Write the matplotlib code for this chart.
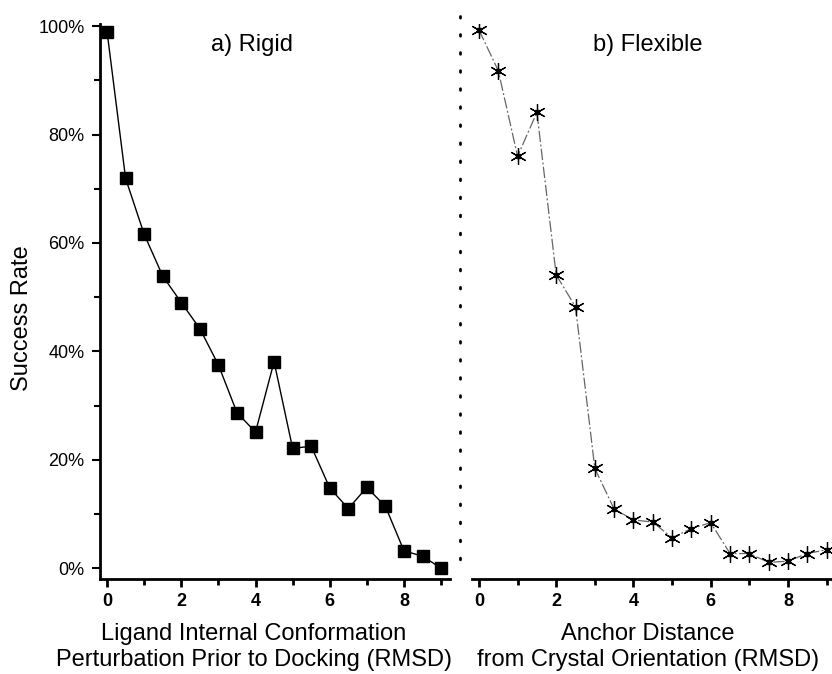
import numpy as np
import matplotlib.pyplot as plt
from matplotlib.lines import Line2D
from matplotlib.ticker import MultipleLocator, FuncFormatter

plt.rcParams['font.family'] = ['Liberation Sans', 'DejaVu Sans']

# RMSD steps (both panels)
rmsd = [0, 0.5, 1, 1.5, 2, 2.5, 3, 3.5, 4, 4.5, 5, 5.5, 6, 6.5, 7, 7.5, 8, 8.5, 9]
# success rate (%)
rigid = [99, 71.9, 61.6, 53.9, 49.0, 44.2, 37.5, 28.7, 25.1, 38.1,
         22.1, 22.5, 14.8, 11.0, 14.9, 11.4, 3.2, 2.2, 0.0]
flexible = [99.3, 91.8, 76.0, 84.1, 54.1, 48.2, 18.4, 10.9, 8.9, 8.5,
            5.6, 7.3, 8.4, 2.7, 2.7, 1.05, 1.3, 2.7, 3.4]

fig = plt.figure(figsize=(8.32, 6.74), dpi=100)
W, H = 832, 674

# left panel: rigid
ax1 = fig.add_axes([100 / W, 1 - 579 / H, 350 / W, 555 / H])
ax1.plot(rmsd, rigid, color='black', lw=1.0, marker='s',
         markersize=8, markerfacecolor='black', markeredgecolor='black')
ax1.set_xlim(-0.19, 9.24)
ax1.set_ylim(-2.0, 100.4)

# right panel: flexible
ax2 = fig.add_axes([472 / W, 1 - 579 / H, 360 / W, 555 / H])
ax2.plot(rmsd, flexible, color='0.4', lw=0.9, linestyle=(0, (9, 2, 1.5, 2)))
ax2.plot(rmsd, flexible, linestyle='none', marker=(6, 2, 0), markersize=12,
         markeredgecolor='black', markeredgewidth=0.9)
ax2.plot(rmsd, flexible, linestyle='none', marker='s', markersize=3.5,
         color='black')
ax2.set_xlim(-0.18, 9.14)
ax2.set_ylim(-2.0, 100.4)

for ax in (ax1, ax2):
    ax.spines['top'].set_visible(False)
    ax.spines['right'].set_visible(False)
    ax.spines['bottom'].set_linewidth(2)
    ax.xaxis.set_major_locator(MultipleLocator(2))
    ax.xaxis.set_minor_locator(MultipleLocator(1))
    ax.tick_params(axis='x', which='major', direction='out', length=6, width=2,
                   labelsize=13, pad=4)
    ax.tick_params(axis='x', which='minor', direction='out', length=4, width=2)
    for lab in ax.get_xticklabels():
        lab.set_fontweight('bold')

ax1.spines['left'].set_linewidth(2)
ax1.yaxis.set_major_locator(MultipleLocator(20))
ax1.yaxis.set_minor_locator(MultipleLocator(10))
ax1.yaxis.set_major_formatter(FuncFormatter(lambda v, p: f'{v:.0f}%'))
ax1.tick_params(axis='y', which='major', direction='out', length=6, width=1.5,
                labelsize=13, pad=5)
ax1.tick_params(axis='y', which='minor', direction='out', length=4, width=1.5)

ax2.spines['left'].set_visible(False)
ax2.set_yticks([])

# dotted separator between the panels
fig.add_artist(Line2D([460 / W, 460 / W], [1 - 16 / H, 1 - 566 / H],
                      transform=fig.transFigure, color='black', lw=2,
                      linestyle=(0, (0.6, 5.9)), dash_capstyle='round'))

# panel titles
fig.text(252 / W, 1 - 45 / H, 'a) Rigid', fontsize=17, ha='center', va='center')
fig.text(648 / W, 1 - 45 / H, 'b) Flexible', fontsize=17, ha='center', va='center')

# axis labels
fig.text(22 / W, 1 - 318 / H, 'Success Rate', fontsize=17, rotation=90,
         ha='center', va='center')
fig.text(254 / W, 1 - 647 / H,
         'Ligand Internal Conformation\nPerturbation Prior to Docking (RMSD)',
         fontsize=17, ha='center', va='center', linespacing=1.2)
fig.text(648 / W, 1 - 647 / H,
         'Anchor Distance\nfrom Crystal Orientation (RMSD)',
         fontsize=17, ha='center', va='center', linespacing=1.2)

fig.savefig('out.png', dpi=100)
